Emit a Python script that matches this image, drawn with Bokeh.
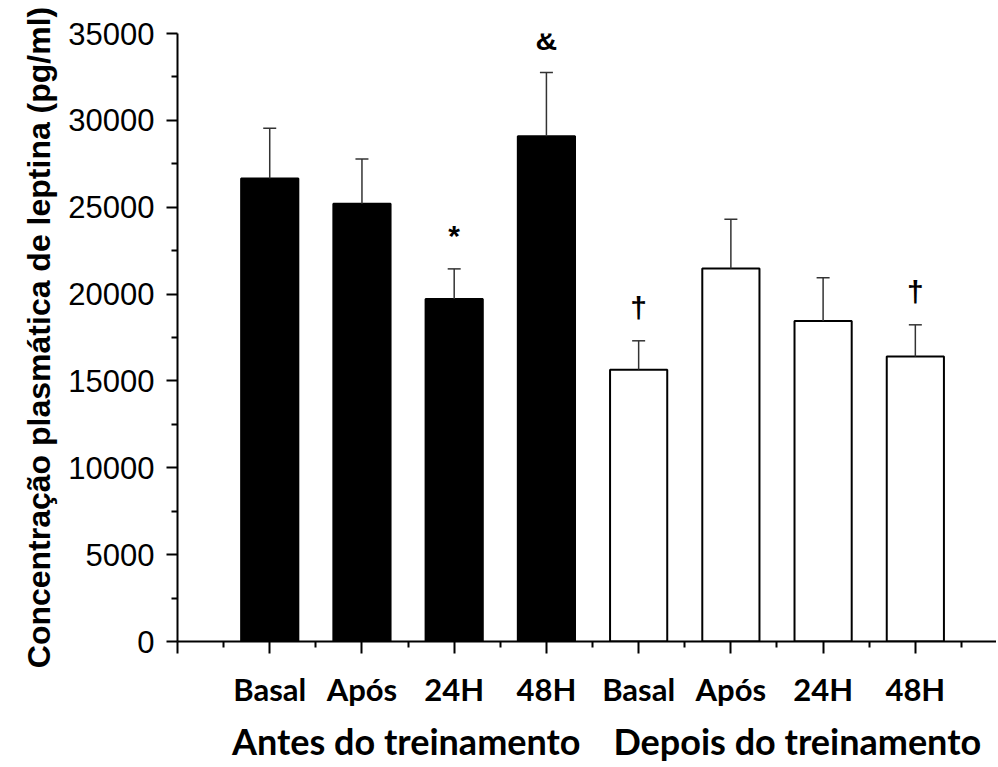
from bokeh.plotting import figure
from bokeh.models import (ColumnDataSource, Range1d, LinearAxis, FixedTicker,
                          Whisker, TeeHead)
from bokeh.core.properties import value
from bokeh.embed import file_html
from bokeh.resources import INLINE

# ---- data ----
categories = ["Basal", "Após", "24H", "48H", "Basal", "Após", "24H", "48H"]
positions = [1, 2, 3, 4, 5, 6, 7, 8]
means = [26650, 25200, 19720, 29080, 15650, 21470, 18450, 16400]
sem = [2900, 2580, 1730, 3680, 1660, 2830, 2490, 1830]
fills = ["black", "black", "black", "black", "white", "white", "white", "white"]
marks = ["", "", "*", "&", "†", "", "", "†"]
groups = ["Antes do treinamento", "Depois do treinamento"]
group_pos = [2.48, 6.72]
y_ticks = [0, 5000, 10000, 15000, 20000, 25000, 30000, 35000]

tops = [m + s for m, s in zip(means, sem)]

src = ColumnDataSource(dict(x=positions, top=means, upper=tops, fill=fills,
                            mark=marks))

p = figure(width=996, height=765, output_backend="svg", toolbar_location=None,
           x_range=Range1d(0, 8.88), y_range=Range1d(0, 35000),
           min_border_left=177, min_border_right=0, min_border_top=33,
           min_border_bottom=118)
p.outline_line_color = None
p.grid.grid_line_color = None
p.background_fill_color = "white"

p.vbar(x="x", top="top", bottom=0, width=0.62, source=src,
       fill_color="fill", line_color="black", line_width=2)

wh = Whisker(base="x", lower="top", upper="upper", source=src,
             line_color="#333333", line_width=1.5,
             upper_head=TeeHead(size=13, line_color="#333333", line_width=1.5),
             lower_head=None, level="annotation")
p.add_layout(wh)

p.text(x="x", y="upper", text="mark", source=src, y_offset=-33,
       text_align="center", text_baseline="alphabetic",
       text_font=value("Liberation Sans"), text_font_style="bold",
       text_font_size="30px", text_color="black")

# y axis
ya = p.yaxis[0]
ya.ticker = FixedTicker(ticks=y_ticks,
                        minor_ticks=[v + 2500 for v in y_ticks[:-1]])
ya.axis_line_width = 2
ya.major_tick_line_width = 2
ya.minor_tick_line_width = 2
ya.major_tick_out = 11
ya.major_tick_in = 0
ya.minor_tick_out = 6
ya.minor_tick_in = 0
ya.major_label_standoff = 12
ya.major_label_text_font = "Liberation Sans"
ya.major_label_text_font_size = "31px"
ya.major_label_text_color = "black"
ya.axis_label = "Concentração plasmática de leptina (pg/ml)"
ya.axis_label_text_font = "Liberation Sans"
ya.axis_label_text_font_style = "bold"
ya.axis_label_text_font_size = "32px"
ya.axis_label_text_color = "black"
ya.axis_label_standoff = 8

# x axis
xa = p.xaxis[0]
xa.ticker = FixedTicker(ticks=[0] + positions,
                        minor_ticks=[v + 0.5 for v in [0] + positions])
overrides = {0: ""}
for pos, c in zip(positions, categories):
    overrides[pos] = c
xa.major_label_overrides = overrides
xa.axis_line_width = 2
xa.major_tick_line_width = 2
xa.minor_tick_line_width = 2
xa.major_tick_out = 12
xa.major_tick_in = 0
xa.minor_tick_out = 6
xa.minor_tick_in = 0
xa.major_label_standoff = 16
xa.major_label_text_font = "Lato"
xa.major_label_text_font_style = "bold"
xa.major_label_text_font_size = "31px"
xa.major_label_text_color = "black"

ga = LinearAxis(ticker=FixedTicker(ticks=group_pos, minor_ticks=[]))
ga.major_label_overrides = {gp: g for gp, g in zip(group_pos, groups)}
ga.axis_line_color = None
ga.major_tick_line_color = None
ga.minor_tick_line_color = None
ga.major_tick_out = 0
ga.major_label_standoff = 8
ga.major_label_text_font = "Lato"
ga.major_label_text_font_style = "bold"
ga.major_label_text_font_size = "36px"
ga.major_label_text_color = "black"
p.add_layout(ga, "below")

open("out.html", "w").write(file_html(p, INLINE))
